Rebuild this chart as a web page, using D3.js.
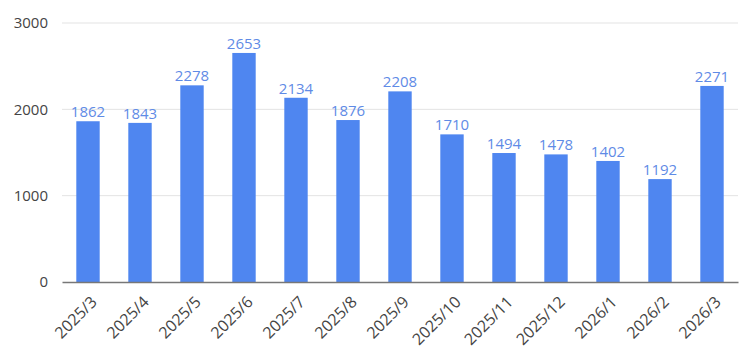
<!DOCTYPE html>
<html>
<meta charset="utf-8">
<head>
<script src="https://cdn.jsdelivr.net/npm/d3@7/dist/d3.min.js"></script>
<style>
body { margin: 0; background: #fff; }
text { font-family: "Open Sans", "Noto Sans", sans-serif; }
</style>
</head>
<body>
<div id="grafico"></div>
<script>
var meses = ["2025/3","2025/4","2025/5","2025/6","2025/7","2025/8","2025/9","2025/10","2025/11","2025/12","2026/1","2026/2","2026/3"];
var valores = [1862, 1843, 2278, 2653, 2134, 1876, 2208, 1710, 1494, 1478, 1402, 1192, 2271];
var ticksY = [0, 1000, 2000, 3000];

var margin = {top: 23, right: 12, bottom: 78, left: 62},
	width = 750 - margin.left - margin.right,
	height = 360 - margin.top - margin.bottom;

var svg = d3.select("#grafico").append("svg")
	.attr("width", 750)
	.attr("height", 360)
  .append("g")
	.attr("transform", "translate(" + margin.left + "," + margin.top + ")");

var x = d3.scaleBand()
	.domain(meses)
	.range([0, width])
	.paddingInner(0.55)
	.paddingOuter(0.275);

var y = d3.scaleLinear()
	.domain([0, 3000])
	.range([height, 0]);

// grilla
svg.selectAll(".grid")
	.data(ticksY.slice(1))
  .enter().append("line")
	.attr("class", "grid")
	.attr("x1", 0).attr("x2", width)
	.attr("y1", function(d) { return y(d); })
	.attr("y2", function(d) { return y(d); })
	.attr("stroke", "#e3e3e3")
	.attr("stroke-width", 1);

// eje y
var yAxis = svg.append("g")
	.call(d3.axisLeft(y).tickValues(ticksY).tickFormat(d3.format("d")).tickSize(0).tickPadding(14));
yAxis.select(".domain").remove();
yAxis.selectAll("text")
	.style("font-size", "15px")
	.attr("fill", "#444");

// barras
svg.selectAll(".bar")
	.data(valores)
  .enter().append("rect")
	.attr("class", "bar")
	.attr("x", function(d, i) { return x(meses[i]); })
	.attr("y", function(d) { return y(d); })
	.attr("width", x.bandwidth())
	.attr("height", function(d) { return height - y(d); })
	.attr("fill", "#4f86f0");

// etiquetas
svg.selectAll(".etiqueta")
	.data(valores)
  .enter().append("text")
	.attr("class", "etiqueta")
	.attr("x", function(d, i) { return x(meses[i]) + x.bandwidth() / 2; })
	.attr("y", function(d) { return y(d) - 4; })
	.attr("text-anchor", "middle")
	.style("font-size", "15px")
	.attr("fill", "#5f8be6")
	.text(function(d) { return d; });

// eje x
var xAxis = svg.append("g")
	.attr("transform", "translate(0," + height + ")")
	.call(d3.axisBottom(x).tickSize(0).tickPadding(0));
xAxis.select(".domain").attr("stroke", "#777").attr("stroke-width", 1.5);
xAxis.selectAll("text")
	.style("font-size", "16px")
	.attr("fill", "#444")
	.attr("text-anchor", "end")
	.attr("dy", "0.35em")
	.attr("transform", "translate(6,17) rotate(-45)");
</script>
</body>
</html>
